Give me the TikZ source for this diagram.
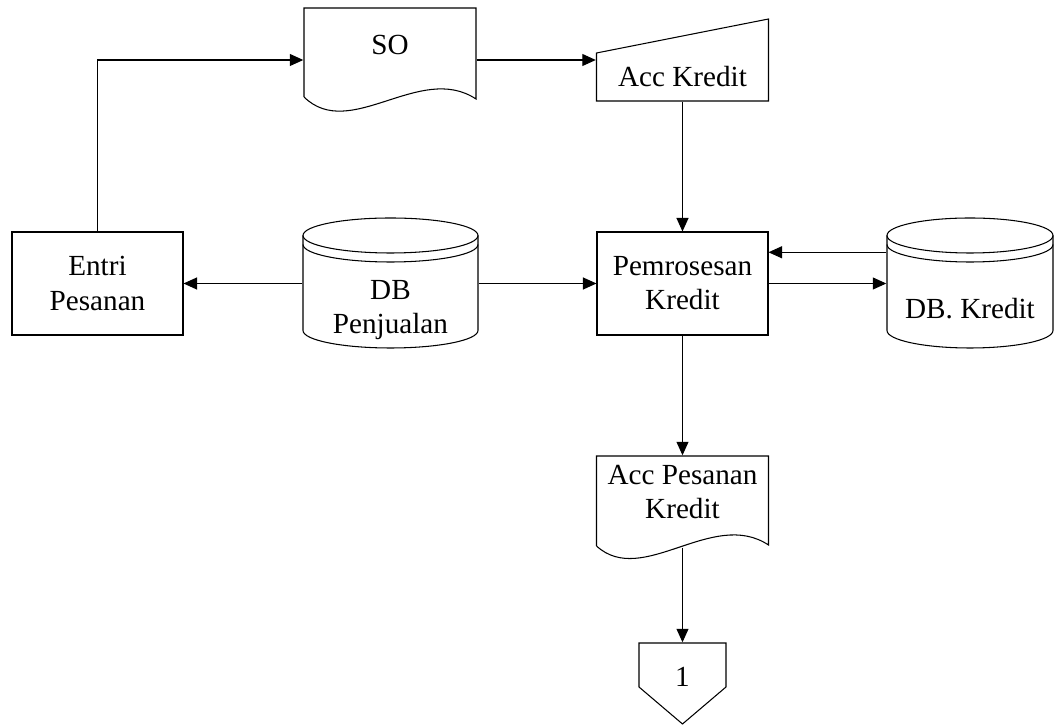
\documentclass[tikz,border=0pt]{standalone}
\usepackage{fontspec}
\setmainfont{Liberation Serif}
\usetikzlibrary{calc,arrows.meta}

\begin{document}
\begin{tikzpicture}[
	garis/.style = {line width=0.3pt},
	panah/.style = {line width=0.3pt, -{Triangle[length=1.35mm,width=1.2mm]}},
	isi/.style = {inner sep=0pt, align=center, font=\fontsize{8.3}{9.7}\selectfont},
	kotak/.style = {isi, draw, line width=0.3pt, minimum width=1.71cm, minimum height=1.03cm}]
	\useasboundingbox (0,0) rectangle (10.55,-7.25);
	% proses
	\node[kotak] (entri) at (0.975,-2.835) {Entri\\Pesanan};
	\node[kotak] (proses) at (6.825,-2.835) {Pemrosesan\\Kredit};
	% dokumen SO
	\node[isi, minimum width=1.72cm, minimum height=1.04cm, text depth=3mm] (so) at (3.90,-0.60) {SO};
	\draw[garis] (3.04,-0.97) -- (3.04,-0.08) -- (4.76,-0.08) -- (4.76,-0.99) .. controls (4.2,-0.62) and (3.5,-1.42) .. (3.04,-0.97);
	% input manual
	\node[isi, minimum width=1.72cm, minimum height=0.48cm] (acc) at (6.825,-0.77) {Acc Kredit};
	\draw[garis] (5.965,-0.53) -- (7.685,-0.19) -- (7.685,-1.01) -- (5.965,-1.01) -- cycle;
	% database
	\node[isi, minimum width=1.75cm] (dbjual) at (3.905,-3.10) {DB\\Penjualan};
	\draw[garis] (3.03,-2.355) -- (3.03,-3.305) arc [start angle=180, end angle=360, x radius=0.875, y radius=0.175] -- (4.78,-2.355);
	\draw[garis] (3.905,-2.355) ellipse [x radius=0.875, y radius=0.175];
	\draw[garis] (3.03,-2.445) arc [start angle=180, end angle=360, x radius=0.875, y radius=0.175];
	\node[isi, minimum width=1.66cm] (dbkredit) at (9.70,-3.09) {DB. Kredit};
	\draw[garis] (8.87,-2.355) -- (8.87,-3.305) arc [start angle=180, end angle=360, x radius=0.83, y radius=0.175] -- (10.53,-2.355);
	\draw[garis] (9.70,-2.355) ellipse [x radius=0.83, y radius=0.175];
	\draw[garis] (8.87,-2.445) arc [start angle=180, end angle=360, x radius=0.83, y radius=0.175];
	% dokumen acc pesanan
	\node[isi, minimum width=1.72cm, minimum height=0.91cm, text depth=2mm] (accpsn) at (6.825,-5.015) {Acc Pesanan\\Kredit};
	\draw[garis] (5.965,-5.46) -- (5.965,-4.56) -- (7.685,-4.56) -- (7.685,-5.45) .. controls (7.125,-5.08) and (6.425,-5.88) .. (5.965,-5.46);
	% off page
	\node[isi, minimum width=0.87cm, minimum height=0.68cm] (hal) at (6.825,-6.77) {1};
	\draw[garis] (6.39,-6.43) -- (7.26,-6.43) -- (7.26,-6.87) -- (6.825,-7.24) -- (6.39,-6.87) -- cycle;
	% aliran
	\draw[panah] (entri.north) |- (so.west);
	\draw[panah] (so.east) -- (so.east -| acc.west);
	\draw[panah] (acc.south) -- (proses.north);
	\draw[panah] (dbjual.west |- entri.east) -- (entri.east);
	\draw[panah] (dbjual.east |- proses.west) -- (proses.west);
	\coordinate (balik) at ($(proses.north east)!0.2!(proses.south east)$);
	\draw[panah] (dbkredit.west |- balik) -- (balik);
	\draw[panah] (proses.east) -- (proses.east -| dbkredit.west);
	\draw[panah] (proses.south) -- (accpsn.north);
	\draw[panah] (accpsn.south) -- (hal.north);
\end{tikzpicture}
\end{document}
